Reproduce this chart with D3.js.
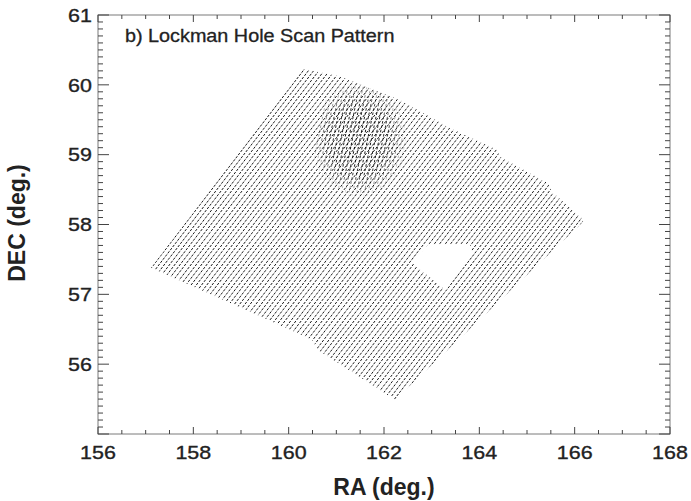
<!DOCTYPE html>
<html><head><meta charset="utf-8">
<script src="https://cdn.jsdelivr.net/npm/d3@7"></script>
<style>body{margin:0;background:#fff}svg{display:block}</style>
</head><body><svg id="c" width="691" height="501"></svg>
<script>
// ---- data ----
const xTicks = [156, 158, 160, 162, 164, 166, 168];
const yTicks = [56, 57, 58, 59, 60, 61];
const title = "b) Lockman Hole Scan Pattern";
// RA where each scan leg crosses DEC = 58
const scanRA58 = [157.82,157.93,158.04,158.15,158.26,158.37,158.48,158.60,158.71,158.82,
  158.93,159.04,159.15,159.26,159.37,159.48,159.60,159.71,159.82,159.93,
  160.04,160.15,160.26,160.37,160.48,160.60,160.71,160.82,160.93,161.04,
  161.15,161.26,161.37,161.48,161.60,161.71,161.82,161.93,162.04,162.15,
  162.26,162.37,162.48,162.60,162.71,162.82,162.93,163.04,163.15,163.26,
  163.37,163.48,163.60,163.71,163.82,163.93,164.04,164.15,164.26,164.37,
  164.48,164.60,164.71,164.82,164.93,165.04,165.15,165.26,165.37,165.48,
  165.60,165.71,165.82,165.93,166.04,166.12];
const scanSlope = 1.128; // dRA per dDEC along a leg
// field outline (RA, DEC)
const fieldRA  = [157.11,160.30,161.08,162.34,163.39,164.37,164.43,165.44,165.52,166.15,166.18,162.23,160.62,160.49,159.19];
const fieldDEC = [57.38,60.23,60.12,59.78,59.38,59.07,58.97,58.59,58.47,58.09,58.04,55.49,56.20,56.35,56.75];
// uncovered hole
const holeRA  = [162.59,162.92,163.80,163.85,163.30];
const holeDEC = [57.45,57.71,57.72,57.61,57.06];
// deeper cross-scan region
const crossRA59 = [160.55,160.63,160.71,160.79,160.87,160.95,161.03,161.11,161.19,161.27,161.35,
  161.43,161.51,161.59,161.67,161.75,161.83,161.91,161.99,162.07,162.15,162.23,162.31,162.39];
const crossSlope = 0.30;
const denseRA  = [160.65,161.40,162.10,162.40,162.50,162.35,162.00,161.55,161.05,160.65,160.45];
const denseDEC = [59.98,60.05,60.00,59.92,59.55,59.00,58.62,58.38,58.48,58.70,59.30];

// ---- chart ----
const svg = d3.select("#c");
const x = d3.scaleLinear().domain([156, 168]).range([98, 670]);
const y = d3.scaleLinear().domain([55, 61]).range([434, 15]);

const defs = svg.append("defs");
const poly = (ra, dec) => "M" + ra.map((r, i) => x(r) + "," + y(dec[i])).join("L") + "Z";
defs.append("clipPath").attr("id", "field").append("path")
  .attr("clip-rule", "evenodd")
  .attr("d", poly(fieldRA, fieldDEC) + poly(holeRA, holeDEC));

// soft-edged mask for the deep region
const grad = defs.append("radialGradient").attr("id", "fade");
grad.append("stop").attr("offset", "0%").attr("stop-color", "#fff").attr("stop-opacity", 1);
grad.append("stop").attr("offset", "60%").attr("stop-color", "#fff").attr("stop-opacity", 0.85);
grad.append("stop").attr("offset", "100%").attr("stop-color", "#fff").attr("stop-opacity", 0);
const bx0 = x(d3.min(denseRA)), bx1 = x(d3.max(denseRA));
const by0 = y(d3.max(denseDEC)), by1 = y(d3.min(denseDEC));
defs.append("mask").attr("id", "denseMask").attr("maskUnits", "userSpaceOnUse")
  .attr("x", 0).attr("y", 0).attr("width", 691).attr("height", 501)
  .append("rect").attr("x", bx0).attr("y", by0).attr("width", bx1 - bx0).attr("height", by1 - by0)
  .attr("fill", "url(#fade)");

const line = d3.line().x(d => x(d[0])).y(d => y(d[1]));
const gScan = svg.append("g").attr("clip-path", "url(#field)");
gScan.selectAll("path.scan").data(scanRA58).join("path").attr("class", "scan")
  .attr("d", r => line([[r + scanSlope * (55 - 58), 55], [r + scanSlope * (61 - 58), 61]]))
  .attr("fill", "none").attr("stroke", "#1a1a1a").attr("stroke-width", 1.0)
  .attr("stroke-dasharray", "2.6,1.4");
const gCross = gScan.append("g").attr("mask", "url(#denseMask)");
gCross.selectAll("path").data(crossRA59).join("path")
  .attr("d", r => line([[r + crossSlope * (55 - 59), 55], [r + crossSlope * (61 - 59), 61]]))
  .attr("fill", "none").attr("stroke", "#0a0a0a").attr("stroke-width", 1.0)
  .attr("stroke-dasharray", "2.6,1.8");

// frame
const axisCol = "#7a7a7a", tickCol = "#444";
svg.append("rect").attr("x", 98).attr("y", 15).attr("width", 572).attr("height", 419)
  .attr("fill", "none").attr("stroke", axisCol).attr("stroke-width", 1);

// ticks
const xMinor = d3.range(156, 168.01, 0.5);
const yMinor = d3.range(55, 61.001, 0.1);
const tg = svg.append("g").attr("stroke", tickCol).attr("stroke-width", 1);
xMinor.forEach(v => {
  const major = Math.abs(v / 2 - Math.round(v / 2)) < 1e-6;
  const L = major ? 7 : 4;
  tg.append("line").attr("x1", x(v)).attr("x2", x(v)).attr("y1", 434).attr("y2", 434 - L);
  tg.append("line").attr("x1", x(v)).attr("x2", x(v)).attr("y1", 15).attr("y2", 15 + L);
});
yMinor.forEach(v => {
  const major = Math.abs(v - Math.round(v)) < 1e-6;
  const L = major ? 11 : 5;
  tg.append("line").attr("x1", 98).attr("x2", 98 + L).attr("y1", y(v)).attr("y2", y(v));
  tg.append("line").attr("x1", 670).attr("x2", 670 - L).attr("y1", y(v)).attr("y2", y(v));
});

const font = "'Liberation Sans', Arial, Helvetica, sans-serif";
const sx = 1.13;
svg.append("g").selectAll("text").data(xTicks).join("text")
  .attr("transform", d => `translate(${x(d)},459) scale(${sx},1)`).attr("text-anchor", "middle")
  .attr("font-family", font).attr("font-size", 19).attr("fill", "#222")
  .attr("stroke", "#222").attr("stroke-width", 0.35).text(d => d);
svg.append("g").selectAll("text").data(yTicks).join("text")
  .attr("transform", d => `translate(92,${y(d) + 6.8}) scale(${sx},1)`).attr("text-anchor", "end")
  .attr("font-family", font).attr("font-size", 19).attr("fill", "#222")
  .attr("stroke", "#222").attr("stroke-width", 0.35).text(d => d);

svg.append("text").attr("x", 384).attr("y", 495).attr("text-anchor", "middle")
  .attr("font-family", font).attr("font-size", 23).attr("font-weight", "bold").attr("fill", "#222")
  .text("RA (deg.)");
svg.append("text").attr("transform", "translate(25,223) rotate(-90)").attr("text-anchor", "middle")
  .attr("font-family", font).attr("font-size", 23).attr("font-weight", "bold").attr("fill", "#222")
  .text("DEC (deg.)");
svg.append("text").attr("transform", "translate(125,42) scale(1.1,1)")
  .attr("font-family", font).attr("font-size", 18).attr("fill", "#222")
  .attr("stroke", "#222").attr("stroke-width", 0.3)
  .text(title);
</script></body></html>
